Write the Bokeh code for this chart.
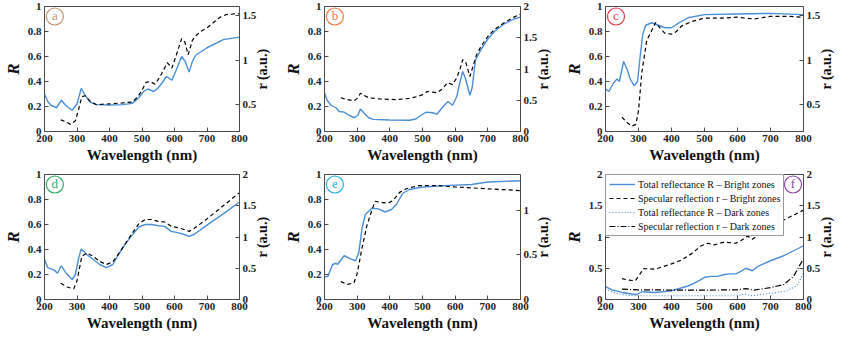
import math
from bokeh.plotting import figure
from bokeh.models import Range1d, LinearAxis, FixedTicker, NumeralTickFormatter, Legend, LegendItem
from bokeh.layouts import column, row
from bokeh.core.properties import value
from bokeh.embed import file_html
from bokeh.resources import INLINE

# ---------------- data ----------------
# panel a
a_R_wl = [200, 210, 220, 237, 252, 265, 285, 300, 313, 325, 340, 360, 400, 440, 470, 490, 505, 518, 536, 550, 562, 575, 592, 605, 622, 633, 645, 655, 665, 700, 750, 800]
a_R = [0.30, 0.24, 0.21, 0.19, 0.25, 0.21, 0.17, 0.22, 0.345, 0.29, 0.235, 0.215, 0.212, 0.215, 0.225, 0.27, 0.32, 0.34, 0.32, 0.35, 0.39, 0.44, 0.41, 0.49, 0.60, 0.56, 0.475, 0.56, 0.61, 0.67, 0.735, 0.755]
a_r_wl = [250, 265, 280, 295, 305, 315, 325, 340, 360, 400, 440, 470, 485, 500, 512, 525, 540, 555, 565, 578, 592, 605, 622, 632, 642, 655, 665, 680, 700, 720, 740, 760, 800]
a_r = [0.33, 0.31, 0.28, 0.32, 0.45, 0.59, 0.60, 0.54, 0.50, 0.51, 0.52, 0.53, 0.58, 0.66, 0.75, 0.76, 0.73, 0.81, 0.88, 0.97, 0.91, 1.05, 1.24, 1.20, 1.06, 1.22, 1.27, 1.32, 1.36, 1.42, 1.48, 1.51, 1.52]

# panel b
b_R_wl = [200, 208, 220, 235, 245, 260, 275, 292, 302, 310, 320, 335, 350, 400, 460, 480, 495, 512, 530, 545, 560, 578, 592, 605, 615, 623, 632, 645, 652, 662, 680, 700, 720, 750, 780, 800]
b_R = [0.31, 0.25, 0.21, 0.19, 0.16, 0.155, 0.13, 0.11, 0.13, 0.18, 0.15, 0.11, 0.097, 0.092, 0.09, 0.10, 0.13, 0.155, 0.15, 0.14, 0.19, 0.24, 0.21, 0.28, 0.40, 0.48, 0.42, 0.29, 0.35, 0.57, 0.66, 0.74, 0.80, 0.86, 0.90, 0.915]
b_r_wl = [250, 270, 290, 300, 310, 320, 335, 370, 420, 460, 485, 500, 515, 530, 545, 560, 577, 592, 605, 615, 623, 633, 645, 655, 665, 680, 700, 720, 750, 780, 800]
b_r = [0.54, 0.51, 0.49, 0.53, 0.61, 0.58, 0.54, 0.52, 0.51, 0.53, 0.56, 0.59, 0.64, 0.63, 0.62, 0.68, 0.78, 0.75, 0.86, 1.00, 1.15, 1.10, 0.88, 1.05, 1.22, 1.37, 1.52, 1.63, 1.74, 1.83, 1.88]

# panel c
c_R_wl = [200, 210, 225, 235, 242, 255, 265, 275, 287, 297, 305, 313, 322, 340, 360, 380, 400, 420, 450, 500, 600, 700, 800]
c_R = [0.34, 0.32, 0.39, 0.42, 0.40, 0.56, 0.50, 0.42, 0.365, 0.40, 0.60, 0.78, 0.85, 0.87, 0.85, 0.83, 0.83, 0.865, 0.91, 0.935, 0.94, 0.945, 0.935]
c_r_wl = [250, 265, 280, 292, 300, 310, 325, 340, 352, 365, 380, 400, 415, 430, 460, 480, 500, 550, 600, 650, 700, 750, 800]
c_r = [0.36, 0.30, 0.26, 0.28, 0.43, 0.86, 1.22, 1.33, 1.42, 1.36, 1.30, 1.29, 1.32, 1.38, 1.43, 1.45, 1.47, 1.47, 1.48, 1.46, 1.49, 1.49, 1.48]

# panel d
d_R_wl = [200, 210, 230, 240, 252, 265, 285, 295, 305, 313, 330, 350, 370, 390, 410, 430, 450, 470, 490, 510, 530, 550, 570, 590, 610, 630, 645, 660, 700, 750, 800]
d_R = [0.32, 0.255, 0.235, 0.21, 0.27, 0.215, 0.16, 0.20, 0.33, 0.405, 0.36, 0.32, 0.28, 0.255, 0.28, 0.37, 0.45, 0.515, 0.58, 0.60, 0.60, 0.59, 0.585, 0.545, 0.535, 0.52, 0.505, 0.52, 0.595, 0.685, 0.78]
d_r_wl = [250, 270, 290, 300, 315, 330, 350, 370, 390, 410, 430, 450, 470, 490, 510, 530, 550, 570, 590, 610, 630, 645, 660, 700, 750, 800]
d_r = [0.26, 0.20, 0.17, 0.30, 0.69, 0.745, 0.69, 0.61, 0.56, 0.60, 0.745, 0.90, 1.06, 1.21, 1.28, 1.28, 1.25, 1.24, 1.17, 1.15, 1.12, 1.09, 1.135, 1.29, 1.50, 1.71]

# panel e
e_R_wl = [200, 210, 225, 235, 240, 260, 280, 295, 305, 315, 325, 345, 365, 385, 405, 420, 440, 460, 500, 600, 650, 700, 800]
e_R = [0.18, 0.185, 0.28, 0.29, 0.28, 0.35, 0.325, 0.31, 0.375, 0.57, 0.68, 0.73, 0.725, 0.70, 0.72, 0.76, 0.85, 0.88, 0.90, 0.915, 0.92, 0.94, 0.95]
e_r_wl = [250, 270, 290, 300, 315, 330, 345, 355, 375, 395, 410, 430, 450, 470, 490, 550, 600, 650, 700, 750, 800]
e_r = [0.20, 0.17, 0.185, 0.29, 0.58, 0.83, 1.00, 1.10, 1.085, 1.08, 1.11, 1.20, 1.24, 1.26, 1.275, 1.275, 1.26, 1.25, 1.24, 1.23, 1.22]

# panel f
f_Rb_wl = [200, 220, 250, 280, 295, 310, 350, 400, 450, 480, 500, 520, 540, 560, 580, 595, 610, 625, 645, 660, 700, 740, 770, 800]
f_Rb = [0.206, 0.155, 0.113, 0.088, 0.08, 0.124, 0.113, 0.14, 0.216, 0.29, 0.355, 0.37, 0.37, 0.40, 0.41, 0.41, 0.45, 0.50, 0.46, 0.525, 0.62, 0.70, 0.78, 0.86]
f_rb_wl = [250, 270, 290, 300, 315, 350, 400, 430, 460, 490, 510, 530, 560, 595, 610, 630, 645, 680, 720, 760, 800]
f_rb = [0.335, 0.31, 0.30, 0.37, 0.495, 0.485, 0.57, 0.63, 0.73, 0.86, 0.90, 0.875, 0.92, 0.90, 0.94, 1.015, 0.965, 1.09, 1.22, 1.325, 1.43]
f_Rd_wl = [200, 230, 260, 300, 400, 500, 600, 620, 645, 700, 750, 780, 800]
f_Rd = [0.165, 0.10, 0.07, 0.06, 0.06, 0.06, 0.06, 0.09, 0.06, 0.10, 0.14, 0.22, 0.42]
f_rd_wl = [250, 300, 350, 400, 500, 600, 625, 650, 700, 740, 770, 800]
f_rd = [0.165, 0.155, 0.155, 0.15, 0.15, 0.155, 0.175, 0.15, 0.19, 0.24, 0.37, 0.655]

x_ticks = [200, 300, 400, 500, 600, 700, 800]

FONT = "Liberation Serif"
BLUE = "#4a8fd8"
AXC = "#4a4a4a"
NB = "\u00a0"


def style_axis(ax):
    ax.major_label_text_font = FONT
    ax.major_label_text_font_style = "bold"
    ax.major_label_text_font_size = "11px"
    ax.major_label_text_color = "#222222"
    ax.axis_line_color = AXC
    ax.axis_line_width = 1
    ax.major_tick_line_color = AXC
    ax.minor_tick_line_color = None
    ax.major_tick_in = 4
    ax.major_tick_out = 0
    ax.major_label_standoff = 3
    ax.axis_label_text_font = FONT
    ax.axis_label_text_color = "#111111"
    ax.axis_label_standoff = 2


def make_panel(width, height, border_top, r_range, r_ticks, R_range, R_ticks,
               letter, color, letter_right=False):
    p = figure(width=width, height=height, x_range=Range1d(200, 800),
               y_range=Range1d(*R_range), output_backend="svg",
               toolbar_location=None, min_border_left=0, min_border_right=0,
               min_border_top=border_top, min_border_bottom=0)
    p.extra_y_ranges = {"r": Range1d(*r_range)}
    p.xgrid.visible = False
    p.ygrid.visible = False
    p.outline_line_color = AXC
    p.outline_line_alpha = 1
    p.background_fill_color = "white"

    p.xaxis.ticker = FixedTicker(ticks=x_ticks)
    p.xaxis.axis_label = "Wavelength (nm)"
    p.xaxis.axis_label_text_font_size = "15px"
    p.xaxis.axis_label_text_font_style = "bold"
    p.yaxis.ticker = FixedTicker(ticks=R_ticks)
    p.yaxis.formatter = NumeralTickFormatter(format="0.[0]")
    p.yaxis.axis_label = "R"
    p.yaxis.axis_label_text_font_size = "17px"
    p.yaxis.axis_label_text_font_style = "bold italic"

    rax = LinearAxis(y_range_name="r", ticker=FixedTicker(ticks=r_ticks),
                     formatter=NumeralTickFormatter(format="0.[0]"),
                     axis_label=NB * 12 + "r (a.u.)")
    p.add_layout(rax, "right")
    for ax in [p.xaxis[0], p.yaxis[0], rax]:
        style_axis(ax)
    rax.axis_label_text_font_size = "14px"
    rax.axis_label_text_font_style = "bold"
    rax.axis_label_orientation = math.pi / 2
    rax.axis_label_standoff = 3
    try:
        rax.axis_label_align = "start"
    except Exception:
        pass

    # panel letter in circle
    frac_x = 0.053
    lx = 800 - frac_x * 600 if letter_right else 200 + frac_x * 600
    ly = R_range[1] - 0.08 * (R_range[1] - R_range[0])
    p.scatter(x=[lx], y=[ly], size=17, marker="circle", fill_color="white",
              line_color=color, line_width=1.2)
    p.text(x=[lx], y=[ly], text=[letter], text_color=color,
           text_font=value(FONT), text_font_size="13px",
           text_align="center", text_baseline="middle", y_offset=-1)
    return p


W = [280, 281, 283]
H_TOP, H_BOT = 165, 168
R01 = [0, 0.2, 0.4, 0.6, 0.8, 1]

pa = make_panel(W[0], H_TOP, 6, (0.2, 1.6), [0.5, 1, 1.5], (0, 1), R01, "a", "#c9936a")
pa.line(a_R_wl, a_R, line_color=BLUE, line_width=1.4)
pa.line(a_r_wl, a_r, y_range_name="r", line_color="black", line_width=1.2, line_dash="4 3")

pb = make_panel(W[1], H_TOP, 6, (0, 2), [0, 0.5, 1, 1.5, 2], (0, 1), R01, "b", "#f0783c")
pb.line(b_R_wl, b_R, line_color=BLUE, line_width=1.4)
pb.line(b_r_wl, b_r, y_range_name="r", line_color="black", line_width=1.2, line_dash="4 3")

pc = make_panel(W[2], H_TOP, 6, (0.2, 1.6), [0.5, 1, 1.5], (0, 1), R01, "c", "#e63c4c")
pc.line(c_R_wl, c_R, line_color=BLUE, line_width=1.4)
pc.line(c_r_wl, c_r, y_range_name="r", line_color="black", line_width=1.2, line_dash="4 3")

pd = make_panel(W[0], H_BOT, 9, (0, 2), [0, 0.5, 1, 1.5, 2], (0, 1), R01, "d", "#2ea864")
pd.line(d_R_wl, d_R, line_color=BLUE, line_width=1.4)
pd.line(d_r_wl, d_r, y_range_name="r", line_color="black", line_width=1.2, line_dash="4 3")

pe = make_panel(W[1], H_BOT, 9, (0, 1.4), [0, 0.5, 1], (0, 1), R01, "e", "#22aee2")
pe.line(e_R_wl, e_R, line_color=BLUE, line_width=1.4)
pe.line(e_r_wl, e_r, y_range_name="r", line_color="black", line_width=1.2, line_dash="4 3")

pf = make_panel(W[2], H_BOT, 9, (0, 2), [0, 0.5, 1, 1.5, 2], (0, 2), [0, 0.5, 1, 1.5, 2], "f", "#9444a4", letter_right=True)
l1 = pf.line(f_Rb_wl, f_Rb, line_color=BLUE, line_width=1.4)
l2 = pf.line(f_rb_wl, f_rb, y_range_name="r", line_color="black", line_width=1.2, line_dash="4 3")
l3 = pf.line(f_Rd_wl, f_Rd, line_color=BLUE, line_width=1.2, line_dash="1 2")
l4 = pf.line(f_rd_wl, f_rd, y_range_name="r", line_color="black", line_width=1.2, line_dash="6 2 1 2")

legend = Legend(items=[
    LegendItem(label="Total reflectance R \u2013 Bright zones", renderers=[l1]),
    LegendItem(label="Specular reflection r \u2013 Bright zones", renderers=[l2]),
    LegendItem(label="Total reflectance R \u2013 Dark zones", renderers=[l3]),
    LegendItem(label="Specular reflection r \u2013 Dark zones", renderers=[l4]),
], location="top_left")
legend.label_text_font = FONT
legend.label_text_font_size = "10px"
legend.label_text_color = "#111111"
legend.label_height = 12
legend.label_standoff = 3
legend.glyph_width = 26
legend.glyph_height = 12
legend.spacing = 2
legend.padding = 3
legend.margin = 0
legend.border_line_color = "#333333"
legend.border_line_width = 1
legend.background_fill_alpha = 1
pf.add_layout(legend, "center")

layout = column(row(pa, pb, pc), row(pd, pe, pf))

open("out.html", "w").write(file_html(layout, INLINE))
